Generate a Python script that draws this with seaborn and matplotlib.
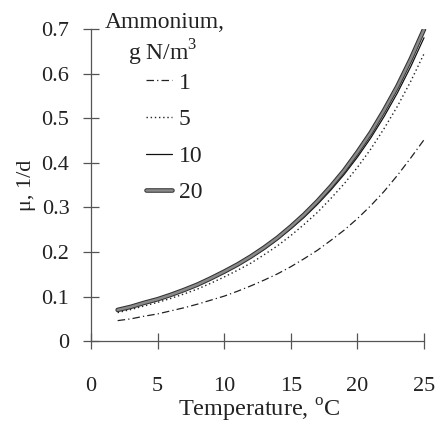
import numpy as np
import pandas as pd
import matplotlib
matplotlib.use("Agg")
import matplotlib.pyplot as plt
import matplotlib.patheffects as pe
import seaborn as sns

# values
temperature = [2, 3, 4, 5, 6, 7, 8, 9, 10, 11, 12, 13, 14, 15, 16, 17, 18, 19, 20, 21, 22, 23, 24, 25]
mu_nh4_1 = [0.046, 0.050, 0.056, 0.061, 0.068, 0.075, 0.083, 0.092, 0.101, 0.112, 0.124, 0.137,
            0.151, 0.167, 0.185, 0.204, 0.226, 0.249, 0.275, 0.304, 0.336, 0.372, 0.411, 0.452]
mu_nh4_5 = [0.064, 0.071, 0.079, 0.087, 0.096, 0.106, 0.117, 0.130, 0.144, 0.159, 0.175, 0.194,
            0.214, 0.237, 0.262, 0.289, 0.320, 0.353, 0.390, 0.431, 0.477, 0.527, 0.583, 0.645]
mu_nh4_10 = [0.069, 0.076, 0.085, 0.093, 0.103, 0.113, 0.125, 0.139, 0.153, 0.169, 0.187, 0.206,
             0.228, 0.252, 0.278, 0.307, 0.339, 0.374, 0.413, 0.456, 0.504, 0.557, 0.616, 0.681]
mu_nh4_20 = [0.070, 0.077, 0.086, 0.094, 0.104, 0.115, 0.127, 0.141, 0.156, 0.172, 0.190, 0.210,
             0.232, 0.257, 0.284, 0.314, 0.347, 0.383, 0.424, 0.468, 0.518, 0.572, 0.633, 0.700]
ammonium_labels = ["1", "5", "10", "20"]
x_ticks = [0, 5, 10, 15, 20, 25]
y_ticks = [0, 0.1, 0.2, 0.3, 0.4, 0.5, 0.6, 0.7]
y_tick_labels = ["0", "0.1", "0.2", "0.3", "0.4", "0.5", "0.6", "0.7"]

sns.set_style("ticks")
plt.rcParams["font.family"] = ["Liberation Serif", "DejaVu Serif"]
plt.rcParams["mathtext.fontset"] = "custom"
plt.rcParams["mathtext.rm"] = "Liberation Serif"

fig = plt.figure(figsize=(4.44, 4.28), dpi=100)
ax = fig.add_axes([0.205, 0.203, 0.759, 0.7286])

series = [mu_nh4_1, mu_nh4_5, mu_nh4_10, mu_nh4_20]
styles = [
    dict(color="#222222", lw=0.9, linestyle=(0, (6, 2.5, 1, 2.5))),
    dict(color="#222222", lw=1.0, linestyle=(0, (1, 2))),
    dict(color="#111111", lw=0.9, linestyle="-"),
    dict(color="#8a8a8a", lw=1.8, linestyle="-",
         path_effects=[pe.Stroke(linewidth=3.3, foreground="#333333"), pe.Normal()]),
]
for vals, lab, st in zip(series, ammonium_labels, styles):
    df = pd.DataFrame({"T": temperature, "mu": vals})
    sns.lineplot(data=df, x="T", y="mu", ax=ax, label=lab, **st)

ax.set_xlim(0, 25.3)
ax.set_ylim(0, 0.7)
ax.set_xticks(x_ticks)
ax.set_yticks(y_ticks)
ax.set_yticklabels(y_tick_labels)
for s in ["top", "right"]:
    ax.spines[s].set_visible(False)
for s in ["left", "bottom"]:
    ax.spines[s].set_color("#555555")
    ax.spines[s].set_linewidth(0.9)
ax.spines["bottom"].set_bounds(0, 25)
ax.tick_params(axis="both", direction="inout", length=11, width=0.9, color="#555555",
               labelsize=16, labelcolor="#222222")
ax.tick_params(axis="x", pad=20)
ax.tick_params(axis="y", pad=10)

ax.set_xlabel("Temperature, $^{\\rm o}$C", fontsize=17.5, color="#222222", labelpad=1)
ax.set_ylabel("\u03bc, 1/d", fontsize=16, color="#222222", labelpad=4)

# legend title drawn as two centred lines, entries placed below it
fig.text(165 / 444, 1 - 23 / 428, "Ammonium,", fontsize=17, color="#222222",
         ha="center", va="center")
fig.text(163 / 444, 1 - 53 / 428, "g N/m$^3$", fontsize=17, color="#222222",
         ha="center", va="center")
leg = ax.legend(frameon=False, fontsize=17, loc="upper left",
                bbox_to_anchor=(146 / 444, 1 - 72 / 428), bbox_transform=fig.transFigure,
                handlelength=1.1, handletextpad=0.3, labelspacing=0.64, borderpad=0,
                borderaxespad=0)
for t in leg.get_texts():
    t.set_color("#222222")

fig.savefig("out.png", dpi=100)
